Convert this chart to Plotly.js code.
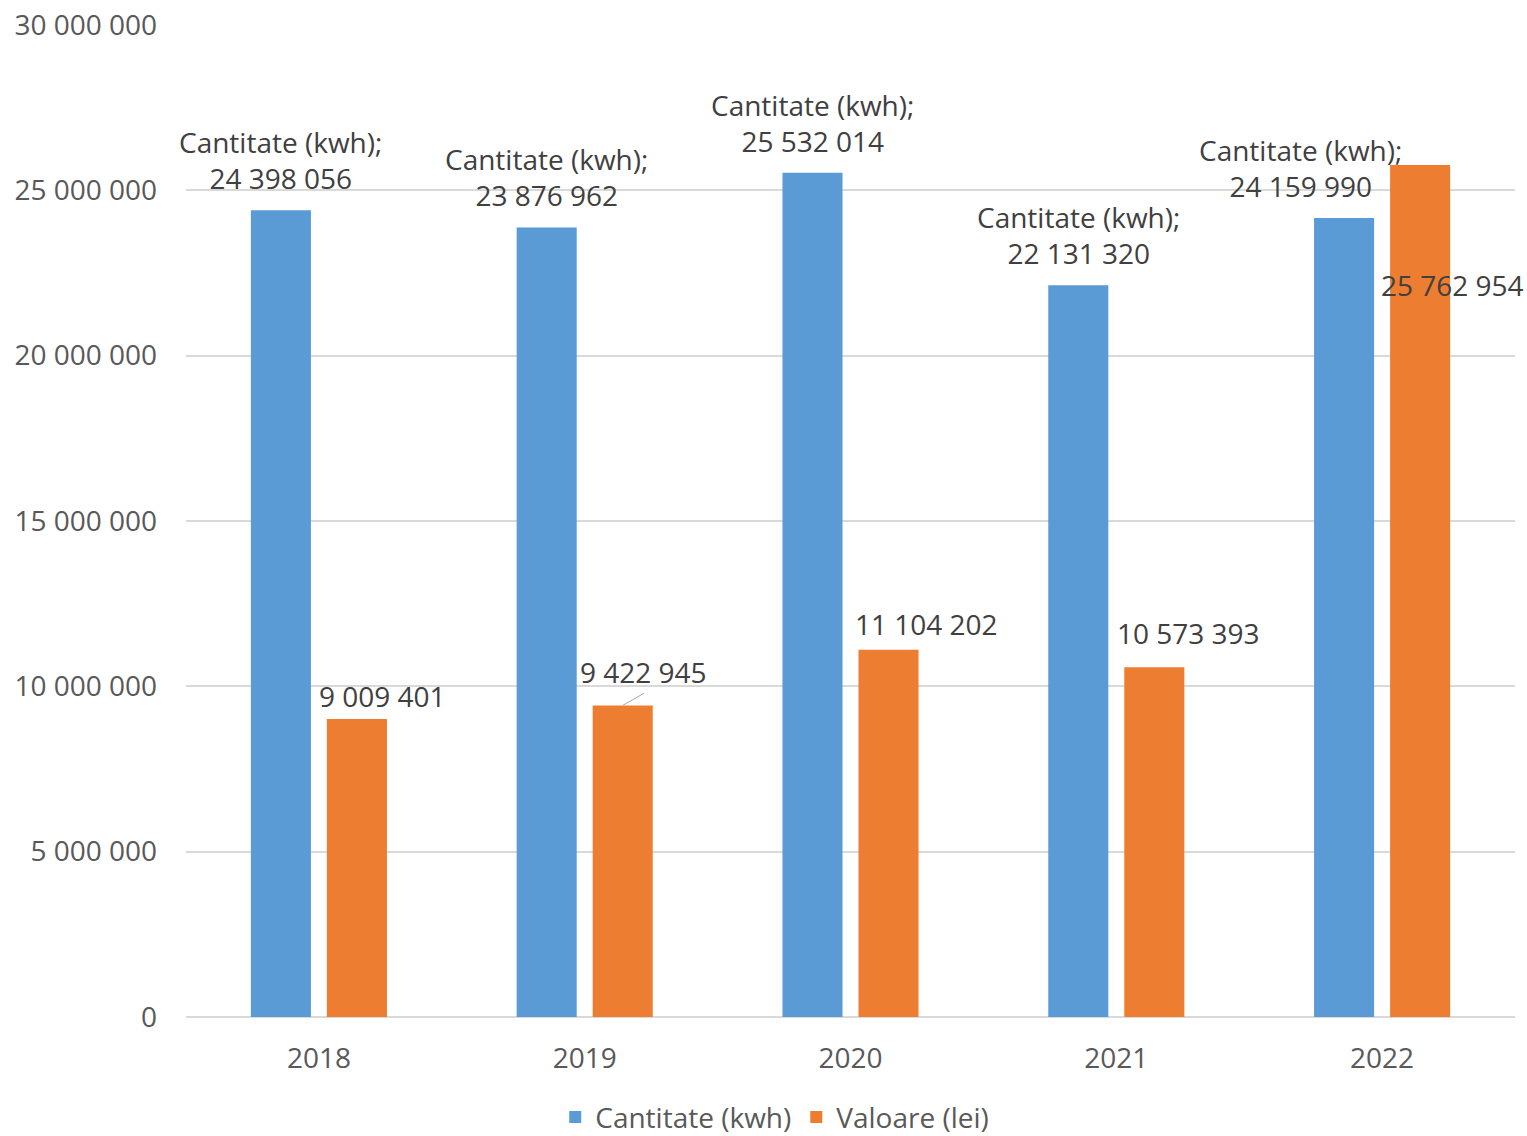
<!DOCTYPE html>
<html>
<head>
<meta charset="utf-8">
<script src="https://cdn.plot.ly/plotly-3.0.1.min.js"></script>
<style>html,body{margin:0;padding:0;background:#fff;}#chart{width:1527px;height:1136px;}</style>
</head>
<body>
<div id="chart"></div>
<script>
const years = ['2018', '2019', '2020', '2021', '2022'];
const cantitate = [24398056, 23876962, 25532014, 22131320, 24159990];
const valoare = [9009401, 9422945, 11104202, 10573393, 25762954];
const seriesNames = ['Cantitate (kwh)', 'Valoare (lei)'];
const yTickVals = [0, 5000000, 10000000, 15000000, 20000000, 25000000, 30000000];

// label placement offsets (pixels)
const blueLabelShiftX = [0, 0, 0, 0, -44];
const orangeLabelShiftX = [26, 21, 38, 34, 32];
const orangeLabelShiftY = [23, 35, 26, 34, -120];

const FONT = 'Open Sans, Noto Sans, sans-serif';
const FS = 28;
const fmt = v => String(v).replace(/\B(?=(\d{3})+(?!\d))/g, ' ');

const BAR_OFF = 38;
const annotations = [];
years.forEach((y, i) => {
  annotations.push({
    x: i, y: cantitate[i], xref: 'x', yref: 'y',
    text: seriesNames[0] + ';<br>' + fmt(cantitate[i]),
    showarrow: false, xshift: -BAR_OFF + blueLabelShiftX[i], yshift: 50,
    yanchor: 'middle', xanchor: 'center',
    font: {family: FONT, size: FS, color: '#404040'}
  });
  if (i === 1) {
    annotations.push({
      x: i, y: valoare[i], xref: 'x', yref: 'y',
      text: fmt(valoare[i]),
      showarrow: true, arrowhead: 0, arrowwidth: 1, arrowcolor: '#a6a6a6',
      ax: 21, ay: -12, xshift: BAR_OFF, standoff: 0,
      yanchor: 'bottom', xanchor: 'center',
      font: {family: FONT, size: FS, color: '#404040'}
    });
  } else {
    annotations.push({
      x: i, y: valoare[i], xref: 'x', yref: 'y',
      text: fmt(valoare[i]),
      showarrow: false, xshift: BAR_OFF + orangeLabelShiftX[i], yshift: orangeLabelShiftY[i],
      yanchor: 'middle', xanchor: 'center',
      font: {family: FONT, size: FS, color: '#404040'}
    });
  }
});

const data = [
  {type: 'bar', name: seriesNames[0], x: years, y: cantitate, marker: {color: '#5b9bd5'}, hoverinfo: 'none'},
  {type: 'bar', name: seriesNames[1], x: years, y: valoare, marker: {color: '#ed7d31'}, hoverinfo: 'none'}
];

const layout = {
  width: 1527, height: 1136,
  margin: {l: 186, r: 12, t: 25, b: 119, autoexpand: false},
  paper_bgcolor: '#fff', plot_bgcolor: '#fff',
  separators: ', ',
  barmode: 'group', bargap: 0.428, bargroupgap: 0.21,
  font: {family: FONT, size: FS, color: '#595959'},
  xaxis: {
    type: 'category', range: [-0.5, 4.5], showgrid: false, zeroline: false, showline: false,
    ticks: '', ticklabelstandoff: 22, tickfont: {family: FONT, size: FS, color: '#595959'}
  },
  yaxis: {
    range: [0, 30000000], tickvals: yTickVals, tickformat: ',d',
    showgrid: true, gridcolor: '#d9d9d9', gridwidth: 2,
    zeroline: true, zerolinecolor: '#d9d9d9', zerolinewidth: 2,
    showline: false, ticks: '', ticklabelstandoff: 28,
    tickfont: {family: FONT, size: FS, color: '#595959'}
  },
  showlegend: true,
  legend: {orientation: 'h', x: 0.443, xref: 'paper', xanchor: 'center', y: -0.101, yanchor: 'middle',
    font: {family: FONT, size: FS, color: '#595959'}},
  annotations: annotations
};

Plotly.newPlot('chart', data, layout, {displayModeBar: false, staticPlot: true});
</script>
</body>
</html>
